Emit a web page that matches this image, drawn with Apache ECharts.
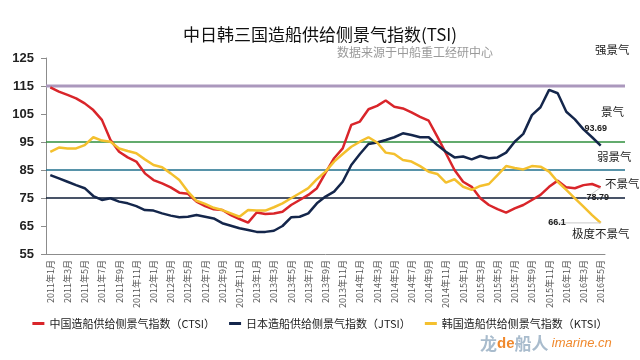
<!DOCTYPE html>
<html><head><meta charset="utf-8">
<script src="https://cdn.jsdelivr.net/npm/echarts@6/dist/echarts.min.js"></script>
<style>html,body{margin:0;padding:0;background:#fff}#c{width:640px;height:360px}</style>
</head><body><div id="c"></div>
<script>
const categories = [
"2011年1月","2011年2月","2011年3月","2011年4月","2011年5月","2011年6月","2011年7月","2011年8月","2011年9月","2011年10月","2011年11月","2011年12月",
"2012年1月","2012年2月","2012年3月","2012年4月","2012年5月","2012年6月","2012年7月","2012年8月","2012年9月","2012年10月","2012年11月","2012年12月",
"2013年1月","2013年2月","2013年3月","2013年4月","2013年5月","2013年6月","2013年7月","2013年8月","2013年9月","2013年10月","2013年11月","2013年12月",
"2014年1月","2014年2月","2014年3月","2014年4月","2014年5月","2014年6月","2014年7月","2014年8月","2014年9月","2014年10月","2014年11月","2014年12月",
"2015年1月","2015年2月","2015年3月","2015年4月","2015年5月","2015年6月","2015年7月","2015年8月","2015年9月","2015年10月","2015年11月","2015年12月",
"2016年1月","2016年2月","2016年3月","2016年4月","2016年5月"];
const ctsi = [114.5,113,111.8,110.6,108.8,106.4,102.9,95.7,91.5,89.5,88,83.8,81.4,80.2,78.8,76.9,76.5,73.7,72.1,71,70.7,68.9,67.5,66.2,69.8,69.3,69.5,70.1,72.5,74.3,76.1,78.5,84,89.2,92.7,101.1,102.3,106.7,107.9,109.8,107.6,107,105.6,104,102.6,96.9,91,85,80.8,79,74.9,72.5,71,69.8,71.3,72.5,74.3,76.1,79,81.2,78.8,78.5,79.6,80,78.79];
const jtsi = [83.2,82,80.8,79.6,78.5,75.7,74.3,74.9,73.7,73.1,72.1,70.7,70.5,69.5,68.7,68.1,68.3,68.9,68.3,67.7,66,65.1,64.2,63.6,62.9,62.9,63.3,65,68.1,68.3,69.5,73.1,75.5,77.3,80.8,86.8,90.7,94.3,94.8,95.7,96.7,98.1,97.5,96.7,96.7,93.9,91.5,89.5,89.8,88.8,90,89.2,89.5,91.2,95.1,97.9,104.6,107.4,113.6,112.4,105.8,103.1,99.5,96.7,93.69];
const ktsi = [91.5,93,92.7,92.7,93.9,96.7,95.5,95.1,92.7,91.8,91,88.8,86.8,86,83.8,81.4,77.3,74,72.9,71.5,70.7,69.5,68.3,70.7,70.5,70.5,71.7,73.1,74.9,76.7,78.5,81.7,84.4,88,90.7,93.3,95.1,96.7,94.8,91.2,90.7,88.6,88,86.4,84.4,83.6,80.5,81.7,79,77.9,79.3,80,83.2,86.4,85.7,85.2,86.4,86.2,84.4,80.8,77.9,74.9,71.9,68.9,66.1];
const yTicks = [55,65,75,85,95,105,115,125];
const thresholds = [115,95,85,75];
const thresholdColors = ['#ab98bd','#2f8f3d','#1f6f8c','#0d1b36'];
const thresholdWidths = [3,1.5,1.5,1.5];
const zoneLabels = ['强景气','景气','弱景气','不景气','极度不景气'];
const seriesNames = ['中国造船供给侧景气指数（CTSI）','日本造船供给侧景气指数（JTSI）','韩国造船供给侧景气指数（KTSI）'];

const chart = echarts.init(document.getElementById('c'));
const cjk = '"Noto Sans CJK SC", sans-serif';
function lastLabel(arr, lab, extra) {
  return arr.map((v, i) => i === arr.length - 1 ? Object.assign({value: v, label: Object.assign({show: true, color: '#222', fontSize: 9, fontWeight: 'bold', fontFamily: 'Liberation Sans'}, lab)}, extra || {}) : v);
}
const thrSeries = thresholds.map((t, k) => ({
  type: 'line', xAxisIndex: 1, yAxisIndex: 1, data: [[0, t], [1, t]], symbol: 'none', silent: true, z: 1,
  lineStyle: {color: thresholdColors[k], width: thresholdWidths[k]}
}));
const common = {type: 'line', symbol: 'circle', symbolSize: 0, showSymbol: true, z: 3};
const guide = {show: true, lineStyle: {color: '#c8c8c8', width: 1}};
chart.setOption({
  animation: false,
  title: [
    {text: '中日韩三国造船供给侧景气指数(TSI)', left: 'center', top: 21, textStyle: {fontFamily: cjk, fontSize: 17, fontWeight: 'normal', color: '#111'}},
    {text: '数据来源于中船重工经研中心', left: 332, top: 41, textStyle: {fontFamily: cjk, fontSize: 12, fontWeight: 'normal', color: '#9a9a9a'}}
  ],
  legend: {
    bottom: 26, left: 'center', itemGap: 14, itemWidth: 12, itemHeight: 3, icon: 'rect',
    textStyle: {fontFamily: cjk, fontSize: 11, color: '#222'},
    data: seriesNames
  },
  grid: [
    {left: 46, right: 35, top: 58, bottom: 106},
    {left: 46, right: 15, top: 58, bottom: 106}
  ],
  xAxis: [
    {type: 'category', data: categories, boundaryGap: true, gridIndex: 0,
     axisLine: {lineStyle: {color: '#8c8c8c'}},
     axisTick: {interval: 1, length: 4, lineStyle: {color: '#8c8c8c'}},
     axisLabel: {interval: 1, rotate: 90, fontSize: 9, color: '#555', fontFamily: cjk, margin: 6}},
    {type: 'value', gridIndex: 1, min: 0, max: 1, show: false}
  ],
  yAxis: [
    {type: 'value', min: 55, max: 125, gridIndex: 0,
     splitLine: {show: false},
     axisLine: {show: true, lineStyle: {color: '#8c8c8c'}},
     axisTick: {show: true, length: 5, customValues: yTicks, lineStyle: {color: '#8c8c8c'}},
     axisLabel: {customValues: yTicks, fontSize: 13, fontWeight: 'bold', color: '#222', fontFamily: 'Liberation Sans', margin: 12}},
    {type: 'value', min: 55, max: 125, gridIndex: 1, show: false}
  ],
  graphic: [
    {type: 'text', left: 595, top: 44, style: {text: zoneLabels[0], font: '11.5px "Noto Sans CJK SC"', fill: '#222'}},
    {type: 'text', left: 601, top: 106, style: {text: zoneLabels[1], font: '11.5px "Noto Sans CJK SC"', fill: '#222'}},
    {type: 'text', left: 597, top: 151, style: {text: zoneLabels[2], font: '11.5px "Noto Sans CJK SC"', fill: '#222'}},
    {type: 'text', left: 605, top: 178, style: {text: zoneLabels[3], font: '11.5px "Noto Sans CJK SC"', fill: '#222'}},
    {type: 'text', left: 572, top: 228, style: {text: zoneLabels[4], font: '11.5px "Noto Sans CJK SC"', fill: '#222'}},
    {type: 'text', left: 480, top: 335, style: {
      rich: {a: {fill: '#a9bccd', font: 'bold 17px "Noto Sans CJK SC"'}, b: {fill: '#f0892d', font: 'bold 15px "Liberation Sans"'}, c: {fill: '#f0892d', font: 'italic 13px "Liberation Sans"'}},
      text: '{a|龙}{b|de}{a|船人} {c|imarine.cn}'}}
  ],
  series: thrSeries.concat([
    Object.assign({}, common, {name: seriesNames[0], data: lastLabel(ctsi, {position: 'bottom', distance: 3}, {labelLine: guide}),
     labelLayout: {dx: -3, dy: 3},
     lineStyle: {color: '#d9252a', width: 2.5}, itemStyle: {color: '#d9252a'}}),
    Object.assign({}, common, {name: seriesNames[1], data: lastLabel(jtsi, {position: 'top', offset: [-5, -8]}),
     lineStyle: {color: '#14264b', width: 2.5}, itemStyle: {color: '#14264b'}}),
    Object.assign({}, common, {name: seriesNames[2], data: lastLabel(ktsi, {position: 'left', distance: 5}, {labelLine: guide}),
     labelLayout: {dx: -30},
     lineStyle: {color: '#f4c02e', width: 2.5}, itemStyle: {color: '#f4c02e'}})
  ])
});
</script></body></html>
